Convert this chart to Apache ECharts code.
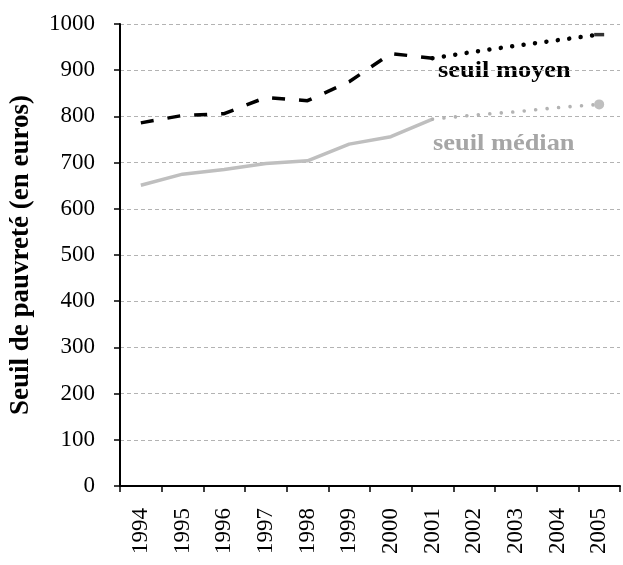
<!DOCTYPE html>
<html lang="fr">
<head>
    <meta charset="utf-8">
    <title>Seuil de pauvreté</title>
    <style type="text/css">
        html, body { margin: 0; padding: 0; background: #fff; }
        #page { width: 623px; height: 565px; }
    </style>
</head>
<body>
<div id="page"></div>
<script src="https://cdn.jsdelivr.net/npm/echarts@6/dist/echarts.min.js"></script>
<script>
    // années
    var years = ['1994', '1995', '1996', '1997', '1998', '1999', '2000', '2001', '2002', '2003', '2004', '2005'];
    // seuil moyen (euros)
    var moyen = [786, 802, 806, 841, 834, 875, 936, 926, 940, 953, 965, 977];
    // seuil médian (euros)
    var median = [651, 675, 685, 698, 704, 740, 756, 794, 803, 810, 819, 826];
    // dernier point observé, ensuite pointillés
    var splitIdx = 7;

    (function () {
        var font = '"Liberation Serif", "Times New Roman", serif';

        function part(list, from, to) {
            return list.map(function (v, i) {
                return (i >= from && i <= to) ? v : '-';
            });
        }

        function lastMarker(list, symbol, size) {
            var data = part(list, splitIdx, list.length - 1);
            var last = data.length - 1;
            data[last] = {value: list[last], symbol: symbol, symbolSize: size};
            return data;
        }

        var myChart = echarts.init(document.getElementById('page'));

        var option = {
            animation: false,
            grid: {left: 120, right: 3, top: 24, bottom: 79},
            xAxis: {
                type: 'category',
                data: years,
                boundaryGap: true,
                axisLine: {lineStyle: {color: '#000', width: 2}},
                axisTick: {show: true, length: 6, lineStyle: {color: '#000', width: 1.5}},
                axisLabel: {rotate: 90, margin: 22, color: '#000', fontFamily: font, fontSize: 23}
            },
            yAxis: {
                type: 'value',
                min: 0,
                max: 1000,
                interval: 100,
                name: 'Seuil de pauvreté (en euros)',
                nameLocation: 'middle',
                nameGap: 85,
                nameTextStyle: {color: '#000', fontFamily: font, fontSize: 27, fontWeight: 'bold'},
                axisLine: {show: true, lineStyle: {color: '#000', width: 2}},
                axisTick: {show: true, length: 6, lineStyle: {color: '#000', width: 1.5}},
                axisLabel: {
                    margin: 25, color: '#000', fontFamily: font, fontSize: 23,
                    formatter: function (v) { return String(v); }
                },
                splitLine: {show: true, lineStyle: {color: '#b3b3b3', width: 1, type: [4, 3]}}
            },
            series: [
                {
                    name: 'seuil moyen',
                    type: 'line',
                    data: part(moyen, 0, splitIdx),
                    symbol: 'none',
                    lineStyle: {color: '#000', width: 3.5, type: [13, 14]}
                },
                {
                    name: 'seuil moyen (suite)',
                    type: 'line',
                    data: lastMarker(moyen, 'rect', [10, 3.5]),
                    symbol: 'none',
                    itemStyle: {color: '#333'},
                    lineStyle: {color: '#000', width: 4.5, type: [0.01, 11.5], cap: 'round'}
                },
                {
                    name: 'seuil médian',
                    type: 'line',
                    data: part(median, 0, splitIdx),
                    symbol: 'none',
                    lineStyle: {color: '#bfbfbf', width: 3.5}
                },
                {
                    name: 'seuil médian (suite)',
                    type: 'line',
                    data: lastMarker(median, 'circle', 10),
                    symbol: 'none',
                    itemStyle: {color: '#bfbfbf'},
                    lineStyle: {color: '#b3b3b3', width: 3.6, type: [0.01, 11.5], cap: 'round'}
                }
            ],
            graphic: [
                {
                    type: 'text',
                    x: 438,
                    y: 83,
                    scaleX: 1.1,
                    style: {text: 'seuil moyen', fill: '#000', font: 'bold 24px ' + font, verticalAlign: 'bottom'}
                },
                {
                    type: 'text',
                    x: 433,
                    y: 156,
                    scaleX: 1.1,
                    style: {text: 'seuil médian', fill: '#a6a6a6', font: 'bold 24px ' + font, verticalAlign: 'bottom'}
                }
            ]
        };
        myChart.setOption(option);
    })();
</script>
</body>
</html>
